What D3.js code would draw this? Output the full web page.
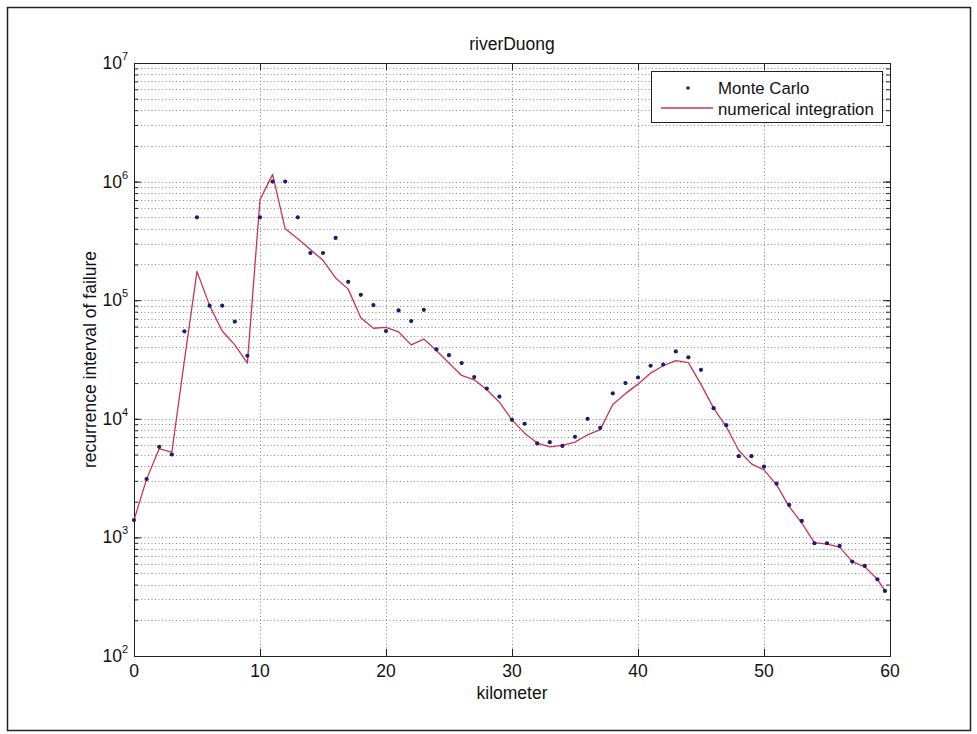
<!DOCTYPE html>
<html>
<head>
<meta charset="utf-8">
<script src="https://cdn.jsdelivr.net/npm/d3@7"></script>
<style>
  html, body { margin: 0; padding: 0; background: #fff; }
  svg { display: block; font-family: "Liberation Sans", Arial, Helvetica, sans-serif; }
</style>
</head>
<body>
<svg id="chart" width="977" height="734"></svg>
<script>
// Kilometre positions along the river
const km = [0,1,2,3,4,5,6,7,8,9,10,11,12,13,14,15,16,17,18,19,20,
  21,22,23,24,25,26,27,28,29,30,31,32,33,34,35,36,37,38,39,40,
  41,42,43,44,45,46,47,48,49,50,51,52,53,54,55,56,57,58,59,59.6];

// Recurrence interval from Monte Carlo simulation
const monteCarlo = [1400,3100,5800,5000,54600,500000,90000,90000,66000,34000,500000,
  1000000,1000000,500000,250000,250000,335000,143000,111000,91000,55000,
  82000,66700,83000,38500,34400,29500,22500,18000,15400,9800,
  9080,6200,6350,5910,7050,10000,8400,16400,20000,22300,
  28000,28700,37000,33000,25900,12300,8830,4840,4840,3950,
  2840,1880,1377,893,893,848,625,575,443,354];

// Recurrence interval from numerical integration
const numerical = [1400,3100,5600,5200,31000,175000,90000,55000,42000,29500,705000,
  1150000,400000,329000,267000,217000,154000,124000,71000,58000,59000,
  54000,42000,47000,37700,29500,23200,21300,17600,13800,9800,
  7570,6240,5800,5960,6360,7330,8100,13200,16300,19600,
  24300,28000,31000,29800,19500,12300,8600,5400,4170,3710,
  2770,1820,1318,904,877,827,625,564,443,354];

const xTicks = [0,10,20,30,40,50,60];
const yExponents = [2,3,4,5,6,7];

const titleText = "riverDuong";
const xLabel = "kilometer";
const yLabel = "recurrence interval of failure";
const seriesNames = ["Monte Carlo", "numerical integration"];

const plot = { left: 134, right: 890, top: 63, bottom: 656 };
const fontSize = 17.5;

const svg = d3.select("#chart");

const x = d3.scaleLinear().domain([0, 60]).range([plot.left, plot.right]);
const y = d3.scaleLog().domain([1e2, 1e7]).range([plot.bottom, plot.top]);

// outer page frame
svg.append("rect")
  .attr("x", 7.5).attr("y", 7.5).attr("width", 963).attr("height", 723)
  .attr("fill", "none").attr("stroke", "#222").attr("stroke-width", 1.5);

// minor values for log gridlines
const minorVals = [];
for (let e = 2; e < 7; e++) for (let m = 1; m <= 9; m++) minorVals.push(m * Math.pow(10, e));
minorVals.push(1e7);

const grid = svg.append("g").attr("class", "grid")
  .attr("stroke", "#8a8a8a").attr("stroke-width", 1).attr("stroke-dasharray", "1,2.5");

grid.selectAll("line.h").data(minorVals.filter(v => v > 1e2 && v < 1e7)).enter()
  .append("line").attr("class", "h")
  .attr("x1", plot.left).attr("x2", plot.right)
  .attr("y1", d => Math.round(y(d)) + 0.5).attr("y2", d => Math.round(y(d)) + 0.5);

grid.selectAll("line.v").data(xTicks.filter(v => v > 0 && v < 60)).enter()
  .append("line").attr("class", "v")
  .attr("y1", plot.top).attr("y2", plot.bottom)
  .attr("x1", d => Math.round(x(d)) + 0.5).attr("x2", d => Math.round(x(d)) + 0.5);

// axes box with inward ticks on all four sides
const axisColor = "#222";
const bottomAxis = d3.axisBottom(x).tickValues(xTicks).tickSize(-7).tickFormat("");
const topAxis = d3.axisTop(x).tickValues(xTicks).tickSize(-7).tickFormat("");
const majorY = yExponents.map(e => Math.pow(10, e));
const leftMajor = d3.axisLeft(y).tickValues(majorY).tickSize(-7).tickFormat("");
const leftMinor = d3.axisLeft(y).tickValues(minorVals).tickSize(-4).tickFormat("");
const rightMajor = d3.axisRight(y).tickValues(majorY).tickSize(-7).tickFormat("");
const rightMinor = d3.axisRight(y).tickValues(minorVals).tickSize(-4).tickFormat("");

function styleAxis(g) {
  g.selectAll("path").attr("stroke", axisColor).attr("stroke-width", 1);
  g.selectAll("line").attr("stroke", axisColor).attr("stroke-width", 1);
}

svg.append("g").attr("transform", `translate(0,${plot.bottom})`).call(bottomAxis).call(styleAxis);
svg.append("g").attr("transform", `translate(0,${plot.top})`).call(topAxis).call(styleAxis);
svg.append("g").attr("transform", `translate(${plot.left},0)`).call(leftMajor).call(styleAxis);
svg.append("g").attr("transform", `translate(${plot.left},0)`).call(leftMinor).call(styleAxis);
svg.append("g").attr("transform", `translate(${plot.right},0)`).call(rightMajor).call(styleAxis);
svg.append("g").attr("transform", `translate(${plot.right},0)`).call(rightMinor).call(styleAxis);

// x tick labels
svg.append("g").selectAll("text").data(xTicks).enter().append("text")
  .attr("x", d => x(d)).attr("y", plot.bottom + 21)
  .attr("text-anchor", "middle").attr("font-size", fontSize).attr("fill", "#111")
  .text(d => d);

// y tick labels as 10 with superscript exponent
const yl = svg.append("g").selectAll("text").data(yExponents).enter().append("text")
  .attr("x", plot.left - 6).attr("y", d => y(Math.pow(10, d)) + 6)
  .attr("text-anchor", "end").attr("font-size", fontSize).attr("fill", "#111");
yl.append("tspan").text("10");
yl.append("tspan").attr("font-size", 11).attr("dy", -9).text(d => d);

// titles
svg.append("text").attr("x", (plot.left + plot.right) / 2).attr("y", 50)
  .attr("text-anchor", "middle").attr("font-size", fontSize).attr("fill", "#111").text(titleText);
svg.append("text").attr("x", (plot.left + plot.right) / 2).attr("y", 699)
  .attr("text-anchor", "middle").attr("font-size", fontSize).attr("fill", "#111").text(xLabel);
svg.append("text")
  .attr("transform", `translate(96,${(plot.top + plot.bottom) / 2}) rotate(-90)`)
  .attr("text-anchor", "middle").attr("font-size", fontSize).attr("fill", "#111").text(yLabel);

// series
const lineColor = "#cc3355";
const dotColor = "#1c1c70";

const line = d3.line().x((d, i) => x(km[i])).y(d => y(d));
svg.append("path").datum(numerical)
  .attr("d", line).attr("fill", "none")
  .attr("stroke", lineColor).attr("stroke-width", 1.3).attr("stroke-linejoin", "round");

svg.append("g").selectAll("circle").data(monteCarlo).enter().append("circle")
  .attr("cx", (d, i) => x(km[i])).attr("cy", d => y(d)).attr("r", 2.1)
  .attr("fill", dotColor);

// legend
const lg = svg.append("g");
lg.append("rect").attr("x", 651.5).attr("y", 71.5).attr("width", 231).attr("height", 51)
  .attr("fill", "#fff").attr("stroke", "#222").attr("stroke-width", 1);
lg.append("circle").attr("cx", 688).attr("cy", 88).attr("r", 1.8).attr("fill", dotColor);
lg.append("line").attr("x1", 661).attr("x2", 713).attr("y1", 108).attr("y2", 108)
  .attr("stroke", lineColor).attr("stroke-width", 1.3);
lg.selectAll("text").data(seriesNames).enter().append("text")
  .attr("x", 718).attr("y", (d, i) => 93.5 + i * 21)
  .attr("font-size", 16.8).attr("fill", "#111").text(d => d);
</script>
</body>
</html>
